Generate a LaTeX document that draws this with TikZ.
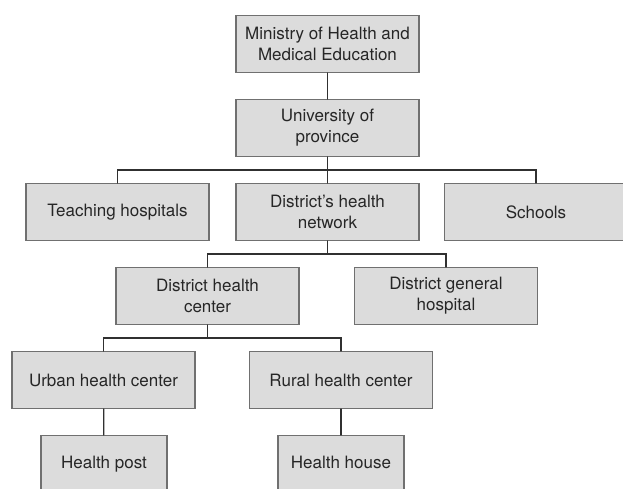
\documentclass[tikz,border=0pt]{standalone}
\usepackage{fontspec}
\setmainfont{TeX Gyre Heros}

\definecolor{boxfill}{HTML}{DCDCDC}
\definecolor{boxline}{HTML}{707070}
\definecolor{linkline}{HTML}{303030}

\begin{document}
\begin{tikzpicture}[x=1pt, y=-1pt, line cap=round,
		unit/.style={rectangle, draw=boxline, fill=boxfill, line width=1.1pt, minimum width=183pt, minimum height=57pt, inner sep=0pt, align=center, text=black!85, font=\fontsize{17}{21}\selectfont},
		small/.style={unit, minimum width=126pt, text height=12pt, text depth=4pt},
		link/.style={draw=linkline, line width=1.3pt}]
		
		% Frame
		\useasboundingbox[fill=white] (0,0) rectangle (623,488);
		
		% Boxes
		\node[unit] (ministry) at (327.5,44) {Ministry of Health and\\Medical Education};
		\node[unit] (uni) at (327.5,128) {University of\\province};
		\node[unit] (teach) at (117.5,212) {Teaching hospitals};
		\node[unit] (net) at (327.5,212) {District's health\\network};
		\node[unit] (schools) at (536,212) {Schools};
		\node[unit] (dhc) at (207.5,296) {District health\\center};
		\node[unit] (dgh) at (446,296) {District general\\hospital};
		\node[unit] (urban) at (103.5,380) {Urban health center};
		\node[unit] (rural) at (341,380) {Rural health center};
		\node[small] (post) at (104,464) {Health post};
		\node[small] (house) at (341,464) {Health house};
		
		% Bus points
		\coordinate (busa) at (327.5,170);
		\coordinate (busb) at (327.5,254);
		\coordinate (busc) at (207.5,338);
		
		% Lines
		\draw[link] (ministry) -- (uni);
		\draw[link] (uni) -- (net);
		\draw[link] (teach.north) |- (busa) -| (schools.north);
		\draw[link] (net) -- (busb);
		\draw[link] (dhc.north) |- (busb) -| (dgh.north);
		\draw[link] (dhc) -- (busc);
		\draw[link] (urban.north) |- (busc) -| (rural.north);
		\draw[link] (urban) -- (post);
		\draw[link] (rural) -- (house);
	\end{tikzpicture}
\end{document}
